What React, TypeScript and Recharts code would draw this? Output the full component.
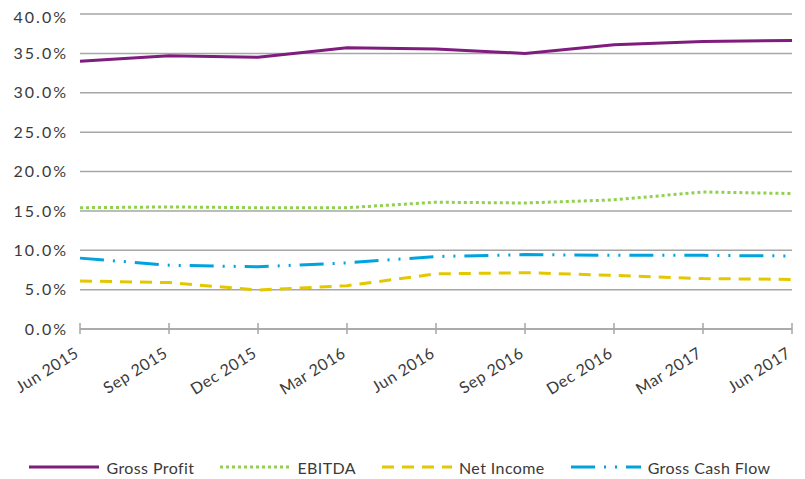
import React from 'react';
import { LineChart, Line, XAxis, YAxis, CartesianGrid, Legend } from 'recharts';

const quarters = ['Jun 2015', 'Sep 2015', 'Dec 2015', 'Mar 2016', 'Jun 2016', 'Sep 2016', 'Dec 2016', 'Mar 2017', 'Jun 2017'];
const grossProfit = [34.0, 34.7, 34.5, 35.7, 35.55, 35.0, 36.1, 36.5, 36.65];
const ebitda = [15.4, 15.5, 15.4, 15.4, 16.1, 16.0, 16.4, 17.4, 17.2];
const netIncome = [6.1, 5.9, 4.95, 5.5, 7.0, 7.15, 6.8, 6.4, 6.3];
const grossCashFlow = [9.0, 8.1, 7.9, 8.4, 9.2, 9.45, 9.35, 9.35, 9.27];
const yTicks = [0, 5, 10, 15, 20, 25, 30, 35, 40];

const FONT = 'Lato, "DejaVu Sans", sans-serif';
const TEXT = '#3a3a3a';
const GRID = '#a6a6a6';

const series = [
    { key: 'gp', name: 'Gross Profit', color: '#7f1d7e', dash: undefined as string | undefined },
    { key: 'eb', name: 'EBITDA', color: '#92d050', dash: '3 3' },
    { key: 'ni', name: 'Net Income', color: '#e3c800', dash: '12 8' },
    { key: 'gcf', name: 'Gross Cash Flow', color: '#00a3dd', dash: '24 9 2 9 2 9' },
];

const chartData = quarters.map((q, i) => ({
    q,
    gp: grossProfit[i],
    eb: ebitda[i],
    ni: netIncome[i],
    gcf: grossCashFlow[i],
}));

const XTick = (props: any) => {
    const { x, y, payload } = props;
    const axisY = y - 8;
    return (
        <g>
            <line x1={x} x2={x} y1={axisY - 6} y2={axisY + 5} stroke={GRID} strokeWidth={1.5} />
            <text
                x={x}
                y={y + 19}
                textAnchor="end"
                fontSize={16}
                fontFamily={FONT}
                letterSpacing={0.6}
                fill={TEXT}
                transform={`rotate(-32, ${x}, ${y + 19})`}
            >
                {payload.value}
            </text>
        </g>
    );
};

const LegendContent = () => (
    <div style={{ display: 'flex', justifyContent: 'center', alignItems: 'center', height: 24, fontFamily: FONT, fontSize: 16, color: TEXT, letterSpacing: 0.4 }}>
        {series.map(s => (
            <div key={s.key} style={{ display: 'flex', alignItems: 'center', margin: '0 13px' }}>
                <svg width={70} height={8} style={{ marginRight: 7 }}>
                    <line x1={0} x2={70} y1={4} y2={4} stroke={s.color} strokeWidth={3} strokeDasharray={s.dash} />
                </svg>
                <span>{s.name}</span>
            </div>
        ))}
    </div>
);

export default function App() {
    return (
        <LineChart width={797} height={471} data={chartData} margin={{ top: 6, right: 13, left: 0, bottom: 0 }}>
            <CartesianGrid vertical={false} stroke={GRID} strokeWidth={1.5} />
            <XAxis
                dataKey="q"
                interval={0}
                height={126}
                tickLine={false}
                tick={<XTick />}
                axisLine={{ stroke: GRID, strokeWidth: 1.5 }}
            />
            <YAxis
                width={72}
                domain={[0, 40]}
                ticks={yTicks}
                axisLine={false}
                tickLine={false}
                tickMargin={6}
                tickFormatter={(v: number) => v.toFixed(1) + '%'}
                tick={{ fontSize: 16, fontFamily: FONT, fill: TEXT, letterSpacing: 2 }}
            />
            <Legend verticalAlign="bottom" content={<LegendContent />} />
            {series.map(s => (
                <Line
                    key={s.key}
                    type="linear"
                    dataKey={s.key}
                    name={s.name}
                    stroke={s.color}
                    strokeWidth={3}
                    strokeDasharray={s.dash}
                    dot={false}
                    activeDot={false}
                    isAnimationActive={false}
                />
            ))}
        </LineChart>
    );
}
